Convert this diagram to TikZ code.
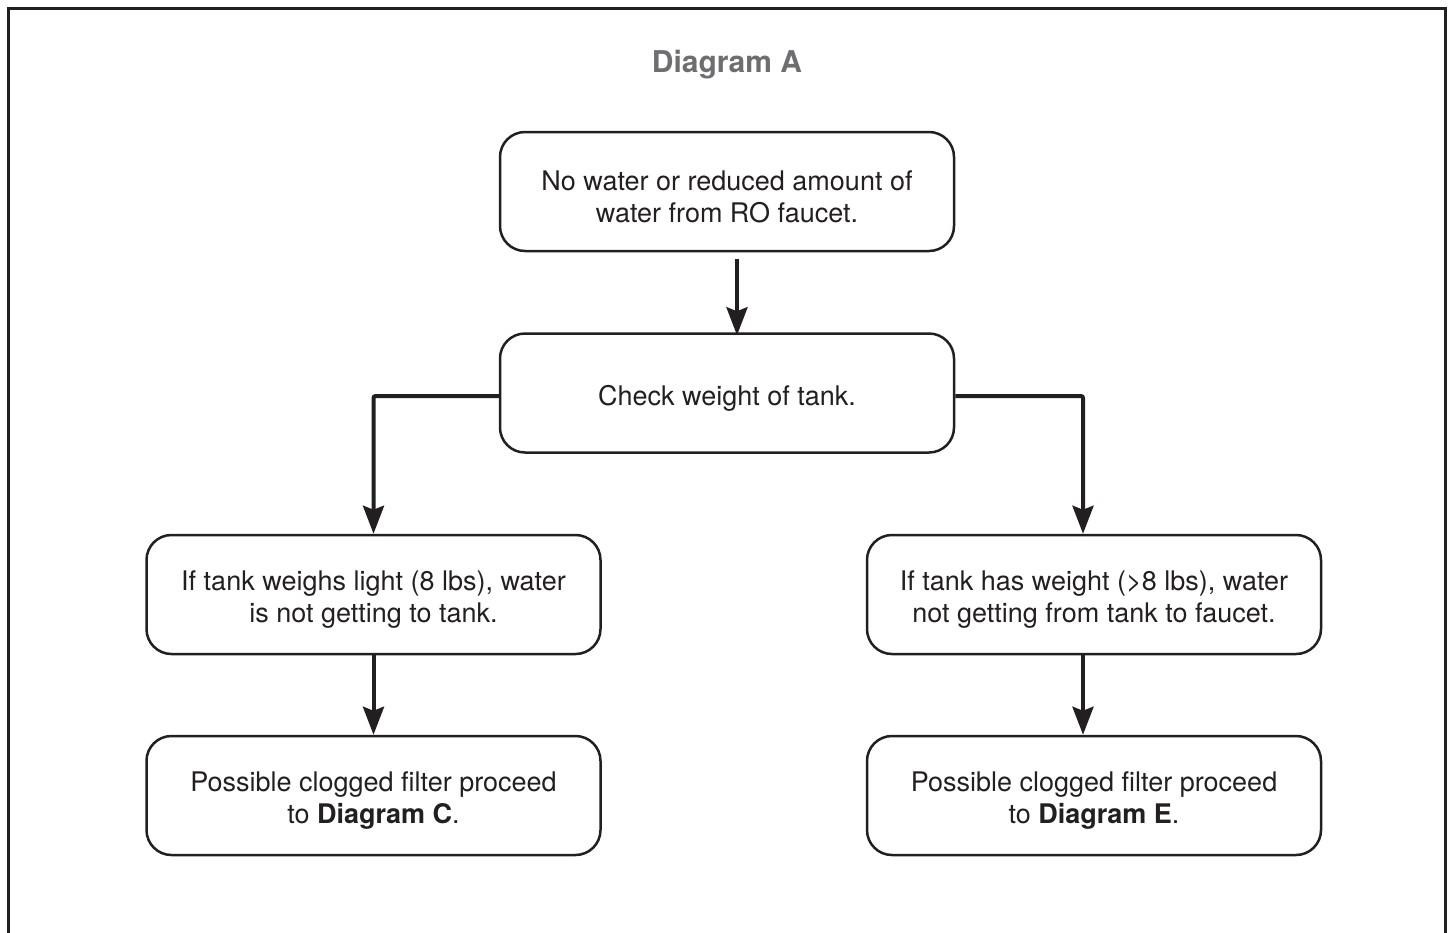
\documentclass[tikz,border=0pt]{standalone}
\usepackage{fontspec}
\setmainfont{TeX Gyre Heros}
\usetikzlibrary{arrows.meta}
\definecolor{ink}{HTML}{231F20}
\definecolor{titlegray}{HTML}{6D6E71}
\tikzset{
  box/.style={draw=ink, line width=2.5pt, rounded corners=25pt, minimum width=454pt, minimum height=119pt, inner sep=0pt},
  txt/.style={inner sep=0pt, align=center, text=ink, font=\fontsize{27}{32}\selectfont},
  arr/.style={draw=ink, line width=4pt, -{Stealth[length=28pt, width=21pt, inset=4pt]}},
  frame/.style={draw=ink, line width=3pt},
  ttl/.style={text=titlegray, font=\fontsize{30}{34}\selectfont\bfseries}
}
\begin{document}
\begin{tikzpicture}[x=1pt, y=-1pt]
\useasboundingbox (0,0) rectangle (1450,932);
\begin{scope}
\clip (0,0) rectangle (1450,932);
\draw[frame] (8,8) rectangle (1445,980);
\end{scope}
\node[ttl] (title) at (727,65) {Diagram A};
\node[box] (top) at (727,191.5) {};
\node[box] (mid) at (727,393) {};
\node[box] (lmid) at (373.5,594.5) {};
\node[box] (rmid) at (1094,594.5) {};
\node[box] (lbot) at (373.5,795.5) {};
\node[box] (rbot) at (1094,795.5) {};
\node[txt] (toptxt) at ([yshift=-5pt]top.center) {No water or reduced amount of\\water from RO faucet.};
\node[txt] (midtxt) at ([yshift=-5pt]mid.center) {Check weight of tank.};
\node[txt] (lmidtxt) at ([yshift=-5pt]lmid.center) {If tank weighs light (8 lbs), water\\is not getting to tank.};
\node[txt] (rmidtxt) at ([yshift=-5pt]rmid.center) {If tank has weight (>8 lbs), water\\not getting from tank to faucet.};
\node[txt] (lbottxt) at ([yshift=-5pt]lbot.center) {Possible clogged filter proceed\\to \textbf{Diagram C}.};
\node[txt] (rbottxt) at ([yshift=-5pt]rbot.center) {Possible clogged filter proceed\\to \textbf{Diagram E}.};
\draw[arr] ([xshift=10pt,yshift=-7pt]top.south) -- ([xshift=10pt,yshift=-3pt]mid.north);
\draw[arr, rounded corners=2pt] ([yshift=-3pt]mid.west) -| (lmid.north);
\draw[arr, rounded corners=2pt] ([yshift=-3pt]mid.east) -| ([xshift=-11pt]rmid.north);
\draw[arr] (lmid.south) -- (lbot.north);
\draw[arr] ([xshift=-11pt]rmid.south) -- ([xshift=-11pt]rbot.north);
\end{tikzpicture}
\end{document}
